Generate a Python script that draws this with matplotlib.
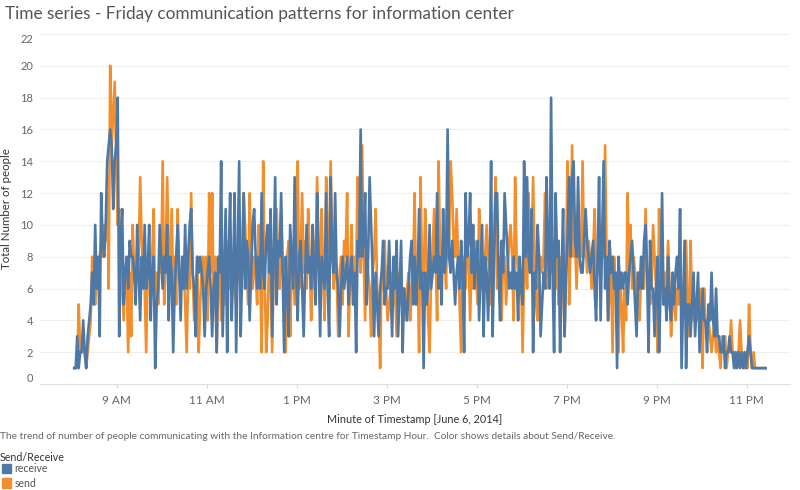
import matplotlib.pyplot as plt
import matplotlib.patches as mpatches
import numpy as np

# one value every 2 minutes starting 8:03
start_minute = 8 * 60 + 3
step_minutes = 2

receive = [
    1, 1, 3, 1, 2, 2, 4, 2, 1, 3, 4, 5, 7, 5, 10,
    6, 8, 3, 12, 9, 8, 10, 14, 15, 16, 15, 11, 14, 15, 18,
    3, 9, 11, 5, 7, 8, 6, 9, 8, 8, 7, 5, 10, 7, 4,
    8, 6, 10, 6, 7, 10, 4, 7, 8, 1, 5, 6, 10, 8, 6,
    8, 7, 10, 4, 8, 7, 2, 6, 8, 10, 7, 4, 8, 6, 10,
    6, 8, 10, 11, 7, 6, 3, 8, 7, 8, 7, 6, 3, 6, 7,
    8, 6, 3, 6, 7, 2, 8, 7, 14, 3, 7, 11, 2, 8, 12,
    4, 7, 12, 2, 8, 14, 3, 7, 12, 6, 9, 8, 4, 7, 10,
    11, 8, 6, 8, 6, 12, 7, 6, 9, 10, 7, 11, 3, 8, 13,
    5, 9, 8, 12, 7, 2, 8, 6, 3, 10, 8, 6, 13, 7, 4,
    8, 9, 6, 3, 7, 10, 7, 8, 6, 10, 7, 5, 12, 8, 3,
    8, 7, 6, 12, 6, 3, 13, 8, 7, 12, 7, 6, 3, 6, 8,
    6, 7, 8, 5, 7, 8, 5, 7, 2, 9, 8, 16, 8, 9, 12,
    5, 8, 13, 10, 7, 3, 7, 5, 3, 6, 7, 9, 5, 6, 6,
    9, 6, 3, 8, 6, 9, 3, 6, 9, 2, 6, 5, 4, 6, 8,
    9, 5, 8, 5, 7, 11, 6, 7, 1, 7, 5, 6, 10, 6, 7,
    8, 7, 12, 6, 8, 5, 11, 7, 8, 16, 8, 7, 9, 7, 5,
    7, 8, 6, 9, 7, 2, 12, 8, 9, 12, 7, 10, 6, 8, 9,
    4, 7, 10, 3, 8, 7, 4, 7, 14, 3, 8, 12, 12, 7, 4,
    9, 7, 12, 10, 8, 6, 7, 6, 8, 6, 7, 4, 8, 6, 5,
    14, 8, 13, 8, 7, 11, 2, 7, 6, 10, 8, 3, 5, 7, 6,
    13, 8, 6, 18, 7, 2, 12, 8, 9, 2, 7, 11, 3, 7, 9,
    13, 8, 13, 14, 9, 8, 13, 8, 7, 7, 9, 11, 9, 8, 7,
    8, 9, 6, 4, 8, 13, 4, 9, 14, 6, 8, 4, 9, 7, 8,
    6, 7, 1, 8, 6, 7, 6, 7, 7, 5, 7, 8, 9, 7, 5,
    3, 7, 6, 8, 6, 9, 10, 7, 2, 9, 6, 6, 3, 6, 8,
    2, 6, 12, 5, 6, 4, 8, 5, 4, 7, 5, 7, 8, 6, 11,
    1, 5, 9, 1, 5, 5, 3, 5, 7, 3, 5, 7, 2, 4, 6,
    4, 4, 2, 5, 4, 7, 4, 3, 6, 3, 3, 2, 2, 3, 1,
    2, 2, 3, 2, 2, 1, 2, 1, 2, 1, 2, 1, 2, 1, 2,
    3, 2, 1, 1, 1, 1, 1, 1, 1, 1, 1, 1,
]

send = [
    1, 1, 1, 5, 2, 2, 3, 2, 1, 2, 3, 4, 8, 6, 5,
    7, 6, 8, 9, 8, 10, 9, 12, 6, 20, 15, 17, 19, 14, 10,
    11, 8, 6, 4, 7, 7, 2, 7, 3, 10, 7, 6, 7, 8, 13,
    9, 7, 6, 2, 7, 8, 6, 8, 11, 4, 7, 5, 8, 7, 14,
    5, 8, 13, 8, 7, 11, 6, 8, 5, 11, 7, 6, 7, 8, 5,
    2, 7, 6, 12, 7, 4, 6, 8, 2, 5, 7, 8, 6, 8, 4,
    12, 7, 12, 5, 8, 2, 6, 8, 4, 7, 8, 5, 7, 9, 6,
    8, 7, 6, 5, 8, 7, 6, 8, 12, 10, 7, 5, 12, 8, 6,
    8, 7, 5, 10, 7, 2, 14, 7, 2, 4, 8, 7, 2, 7, 8,
    11, 8, 6, 11, 7, 6, 2, 8, 9, 3, 7, 8, 5, 8, 14,
    6, 8, 12, 7, 9, 6, 11, 8, 4, 7, 9, 8, 13, 8, 5,
    11, 7, 4, 13, 8, 9, 14, 9, 6, 8, 7, 3, 7, 8, 5,
    9, 8, 12, 3, 7, 10, 5, 8, 7, 13, 9, 7, 15, 8, 4,
    9, 7, 6, 3, 7, 8, 11, 6, 5, 1, 7, 6, 9, 6, 4,
    5, 6, 7, 5, 6, 3, 6, 7, 5, 5, 6, 4, 6, 7, 4,
    6, 7, 12, 5, 7, 2, 13, 7, 6, 11, 8, 4, 2, 7, 8,
    11, 8, 4, 14, 8, 7, 9, 8, 6, 13, 9, 14, 12, 9, 8,
    11, 8, 5, 2, 8, 7, 6, 9, 8, 4, 8, 6, 9, 7, 5,
    11, 8, 6, 7, 8, 10, 8, 7, 5, 8, 9, 13, 6, 8, 5,
    4, 8, 8, 5, 7, 9, 10, 8, 4, 13, 8, 7, 6, 7, 2,
    7, 8, 6, 12, 7, 8, 13, 8, 5, 4, 7, 8, 7, 8, 12,
    6, 7, 8, 7, 9, 8, 6, 8, 5, 7, 8, 6, 3, 8, 14,
    5, 9, 15, 8, 9, 6, 9, 8, 8, 14, 8, 9, 7, 9, 8,
    6, 8, 11, 6, 8, 7, 10, 9, 8, 15, 8, 4, 6, 7, 2,
    8, 6, 7, 2, 7, 5, 2, 6, 4, 12, 7, 10, 6, 8, 7,
    5, 7, 4, 7, 6, 6, 11, 7, 7, 5, 6, 10, 8, 6, 2,
    11, 6, 6, 5, 7, 6, 9, 6, 3, 5, 6, 4, 6, 5, 10,
    4, 6, 5, 9, 5, 3, 9, 5, 4, 5, 5, 4, 6, 4, 1,
    6, 4, 3, 4, 3, 2, 3, 4, 2, 3, 2, 1, 3, 2, 3,
    1, 2, 2, 4, 2, 2, 1, 2, 2, 4, 2, 1, 1, 2, 1,
    5, 2, 1, 2, 1, 1, 1, 1, 1, 1, 1, 1,
]

hour_ticks = [9, 11, 13, 15, 17, 19, 21, 23]
hour_labels = ["9 AM", "11 AM", "1 PM", "3 PM", "5 PM", "7 PM", "9 PM", "11 PM"]
y_ticks = list(range(0, 23, 2))

series_names = ["receive", "send"]
blue = "#4e79a7"
orange = "#f28e2b"

plt.rcParams['font.family'] = ['Lato', 'DejaVu Sans']

minutes = start_minute + step_minutes * np.arange(len(receive))
hours = minutes / 60.0

fig = plt.figure(figsize=(8, 4.9), dpi=100)
ax = fig.add_axes([0.05, 0.2163, 0.9375, 0.7143])

ax.plot(hours, send, color=orange, lw=1.9)
ax.plot(hours, receive, color=blue, lw=1.9)

ax.set_xlim(7.29, 23.96)
ax.set_ylim(0, 22)
ax.set_yticks(y_ticks)
ax.set_yticklabels([str(v) for v in y_ticks], fontsize=8, color="#666666")
ax.set_xticks(hour_ticks)
ax.set_xticklabels(hour_labels, fontsize=8.5, color="#666666")
ax.tick_params(axis="y", length=0, pad=5)
ax.tick_params(axis="x", length=3, color="#d8d8d8", pad=5)
ax.grid(axis="y", color="#efefef", lw=0.8)
ax.set_axisbelow(True)
for side in ["top", "right", "left"]:
    ax.spines[side].set_visible(False)
ax.spines["bottom"].set_color("#e0e0e0")

# edge labels sit inside like in tableau
ylabs = ax.get_yticklabels()
ylabs[0].set_va("bottom")
ylabs[-1].set_va("top")

ax.set_xlabel("Minute of Timestamp [June 6, 2014]", fontsize=7.8, color="#333333", labelpad=6)
ax.set_ylabel("Total Number of people", fontsize=8.3, color="#333333")
ax.yaxis.set_label_coords(-0.037, 0.5)

fig.text(0.006, 0.972, "Time series - Friday communication patterns for information center",
         fontsize=12.4, color="#555555", va="center", ha="left")
fig.text(0.0, 0.11, "The trend of number of people communicating with the Information centre for Timestamp Hour.  "
         "Color shows details about Send/Receive.", fontsize=7.3, color="#666666", va="center", ha="left")
fig.text(0.0, 0.067, "Send/Receive", fontsize=7.7, color="#333333", va="center", ha="left")
for i, (name, col) in enumerate(zip(series_names, [blue, orange])):
    yc = 0.043 - i * 0.029
    fig.patches.append(mpatches.Rectangle((0.002, yc - 0.009), 0.0115, 0.019,
                                          transform=fig.transFigure, color=col))
    fig.text(0.018, yc, name, fontsize=7.6, color="#555555", va="center", ha="left")

fig.savefig("out.png", dpi=100)
